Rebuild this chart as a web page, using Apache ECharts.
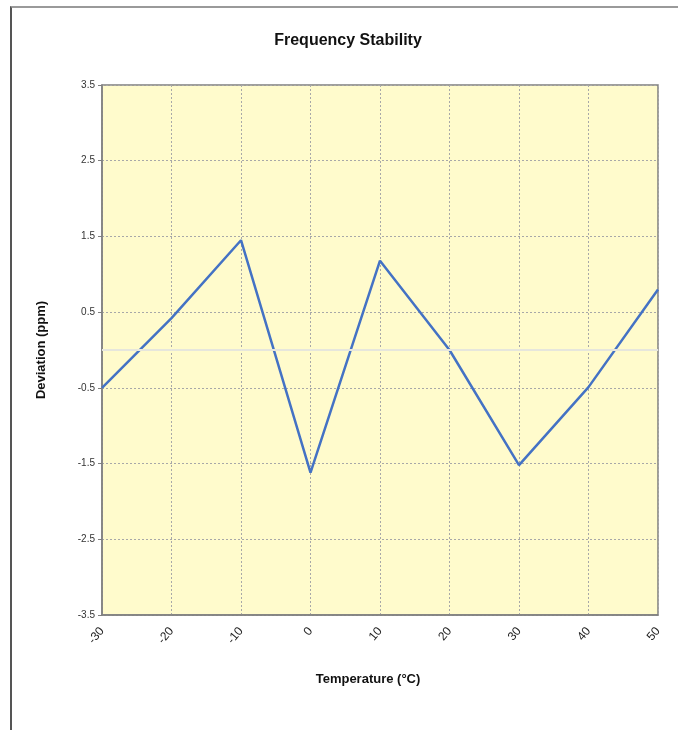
<!DOCTYPE html>
<html>
<head>
<meta charset="utf-8">
<script src="https://cdn.jsdelivr.net/npm/echarts@6/dist/echarts.min.js"></script>
<style>
html,body{margin:0;padding:0;background:#fff;overflow:hidden;}
#frame{position:absolute;left:10px;top:6px;width:700px;height:760px;border-top:2px solid #9a9a9a;border-left:2px solid #555;}
#chart{position:absolute;left:0;top:0;width:678px;height:730px;}
</style>
</head>
<body>
<div id="frame"></div>
<div id="chart"></div>
<script>
const temperatures = [-30, -20, -10, 0, 10, 20, 30, 40, 50];
const deviation = [-0.50, 0.42, 1.45, -1.62, 1.18, 0.00, -1.52, -0.49, 0.80];
const yTicks = [-3.5, -2.5, -1.5, -0.5, 0.5, 1.5, 2.5, 3.5];
const xTicks = [-30, -20, -10, 0, 10, 20, 30, 40, 50];

const chart = echarts.init(document.getElementById('chart'), null, {renderer: 'canvas'});
const font = '"Liberation Sans", Arial, sans-serif';
chart.setOption({
  animation: false,
  textStyle: {fontFamily: font},
  title: {
    text: 'Frequency Stability',
    left: 343, top: 28, textAlign: 'center',
    textStyle: {fontFamily: font, fontSize: 16, fontWeight: 'bold', color: '#111'}
  },
  grid: {
    left: 102, right: 20, top: 85, bottom: 115,
    show: true, backgroundColor: '#FFFBCC', borderColor: '#7f7f7f', borderWidth: 1.5
  },
  xAxis: {
    type: 'value', min: -30, max: 50, interval: 10,
    name: 'Temperature (°C)', nameLocation: 'middle', nameGap: 58,
    nameTextStyle: {fontFamily: font, fontSize: 13, fontWeight: 'bold', color: '#111', padding: [0, 24, 0, 0]},
    axisLine: {show: true, onZero: false, lineStyle: {color: '#7f7f7f', width: 1.5}},
    axisTick: {show: false},
    axisLabel: {rotate: 50, fontSize: 12, color: '#222', margin: 14,
      formatter: v => xTicks.includes(v) ? String(v) : ''},
    splitLine: {show: true, lineStyle: {color: '#a8a8a8', type: [2, 2], width: 1}}
  },
  yAxis: {
    type: 'value', min: -3.5, max: 3.5, interval: 1,
    name: 'Deviation (ppm)', nameLocation: 'middle', nameGap: 54, nameRotate: 90,
    nameTextStyle: {fontFamily: font, fontSize: 13, fontWeight: 'bold', color: '#111'},
    axisLine: {show: true, onZero: false, lineStyle: {color: '#7f7f7f', width: 1.5}},
    axisTick: {show: true, length: 4, lineStyle: {color: '#7f7f7f'}},
    axisLabel: {fontSize: 10, color: '#333', margin: 7,
      formatter: v => yTicks.includes(v) ? String(v) : ''},
    splitLine: {show: true, lineStyle: {color: '#a8a8a8', type: [2, 2], width: 1}}
  },
  series: [{
    type: 'line',
    data: temperatures.map((t, i) => [t, deviation[i]]),
    showSymbol: false,
    lineStyle: {color: '#4472C4', width: 2.5},
    markLine: {
      silent: true, symbol: 'none', label: {show: false},
      lineStyle: {color: '#e6e6dc', type: 'solid', width: 2},
      data: [{yAxis: 0}]
    }
  }]
});
</script>
</body>
</html>
